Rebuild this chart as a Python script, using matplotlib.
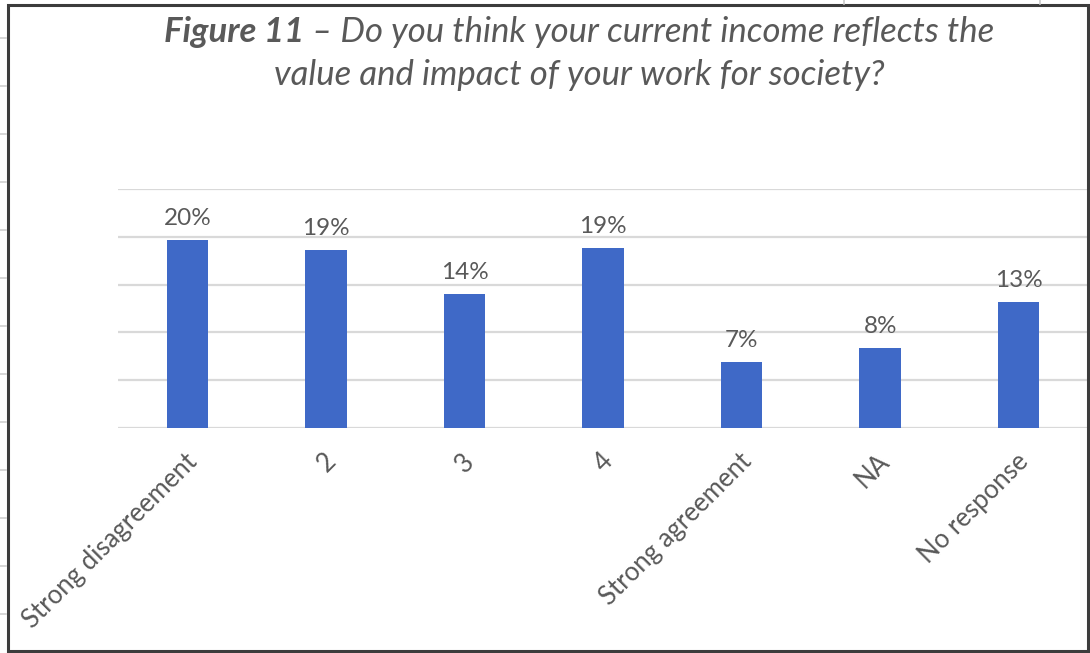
import matplotlib
matplotlib.use("Agg")
import matplotlib.pyplot as plt
import matplotlib.transforms as mtrans
from matplotlib.lines import Line2D
from matplotlib.patches import Rectangle

# Survey responses (share of respondents)
categories = ["Strong disagreement", "2", "3", "4", "Strong agreement", "NA", "No response"]
shares = [0.197, 0.186, 0.140, 0.188, 0.069, 0.084, 0.132]

title_bold = "Figure 11"
title_rest = " \u2013 Do you think your current income reflects the"
title_line2 = "value and impact of your work for society?"

W, H = 1090, 653
BAR = "#3f69c7"
TXT = "#595959"
GRID = "#d9d9d9"
FONT = "Lato"

fig = plt.figure(figsize=(W / 100, H / 100), dpi=100)
fig.patch.set_facecolor("white")


def px(x, y):
    """pixel coords (top-left origin) -> figure fraction"""
    return x / W, 1 - y / H


# surrounding worksheet cell marks
for y in range(38, 640, 48):
    fig.add_artist(Line2D([0 / W, 6 / W], [1 - y / H] * 2, color="#d0d0d0", lw=1.2,
                          transform=fig.transFigure))
for x in (844, 1040):
    fig.add_artist(Line2D([x / W] * 2, [1, 1 - 4 / H], color="#c8c8c8", lw=1.2,
                          transform=fig.transFigure))

# chart frame
fig.add_artist(Rectangle(px(8, 651), (1088 - 8) / W, (651 - 5) / H, fill=False,
                         ec="#3c3c3c", lw=2.2, transform=fig.transFigure))

# plot area
x0, x1, ytop, ybot = 118, 1088, 189, 428
ax = fig.add_axes([x0 / W, 1 - ybot / H, (x1 - x0) / W, (ybot - ytop) / H])
n = len(categories)
pos = list(range(n))
ax.bar(pos, shares, width=0.30, color=BAR, zorder=3)
ax.set_xlim(-0.5, n - 0.5)
ax.set_ylim(0, 0.25)
ax.set_yticks([0, 0.05, 0.10, 0.15, 0.20, 0.25])
ax.yaxis.grid(True, color=GRID, lw=1.6, zorder=0)
ax.tick_params(axis="y", left=False, labelleft=False)
ax.tick_params(axis="x", length=0, pad=15)
for s in ax.spines.values():
    s.set_visible(False)
ax.set_xticks(pos)
ax.set_xticklabels(categories, rotation=45, ha="right", va="top",
                   rotation_mode="anchor", color=TXT, fontsize=18.5, family=FONT)
off = mtrans.ScaledTranslation(-3 / 100, 0, fig.dpi_scale_trans)
for t in ax.get_xticklabels():
    t.set_transform(t.get_transform() + off)

for p, v in zip(pos, shares):
    ax.annotate(f"{v:.0%}", (p, v), xytext=(0, 8), textcoords="offset points",
                ha="center", va="bottom", color=TXT, fontsize=17.5, family=FONT)

# two-style title line 1, centred on cx
cx = 579
t1 = fig.text(0, 1 - 42 / H, title_bold, fontsize=25, fontweight="bold", style="italic",
              color=TXT, family=FONT, va="baseline", ha="left")
t2 = fig.text(0, 1 - 42 / H, title_rest, fontsize=25, style="italic",
              color=TXT, family=FONT, va="baseline", ha="left")
fig.text(cx / W, 1 - 85 / H, title_line2, fontsize=25, style="italic",
         color=TXT, family=FONT, va="baseline", ha="center")
fig.canvas.draw()
r = fig.canvas.get_renderer()
w1 = t1.get_window_extent(r).width
w2 = t2.get_window_extent(r).width
start = cx - (w1 + w2) / 2
t1.set_x(start / W)
t2.set_x((start + w1) / W)

fig.savefig("out.png", dpi=100, facecolor="white")
